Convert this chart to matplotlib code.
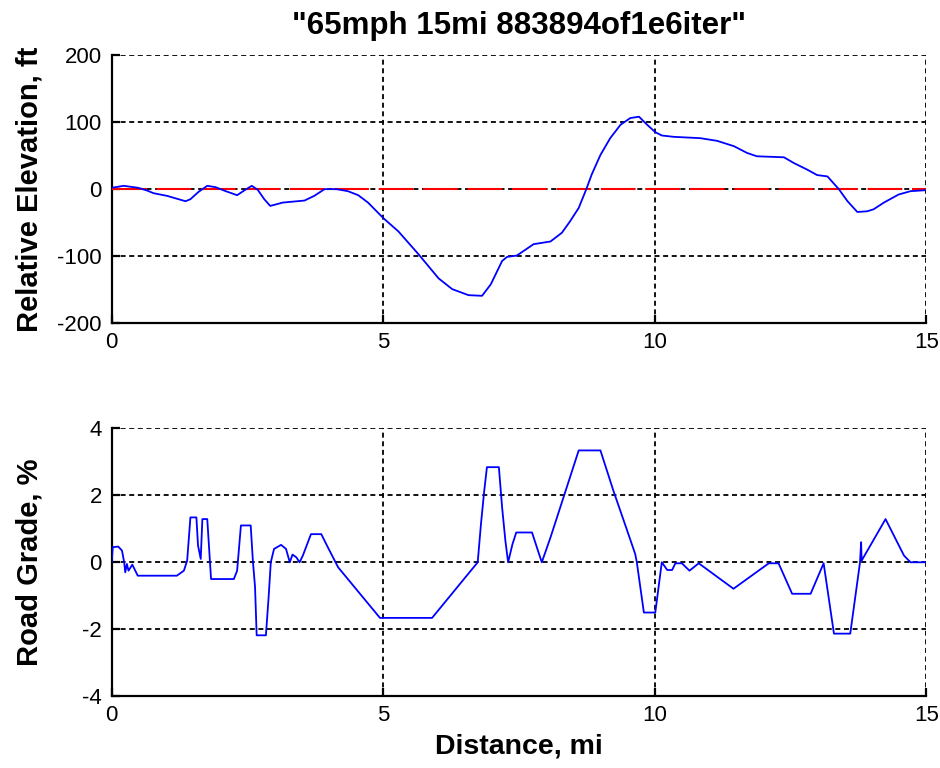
import numpy as np
import matplotlib
matplotlib.use('Agg')
import matplotlib.pyplot as plt

matplotlib.rcParams.update({'font.size': 16, 'font.family': ['Liberation Sans', 'DejaVu Sans'],
                            'lines.scale_dashes': False, 'axes.unicode_minus': False})

# elevation profile (ft) vs distance (mi)
elev_x = [0, 0.22, 0.49, 0.65, 0.77, 1.02, 1.36, 1.45, 1.6, 1.76,
          1.91, 2.1, 2.31, 2.44, 2.58, 2.69, 2.81, 2.92, 3.15, 3.55,
          3.73, 3.92, 4.14, 4.35, 4.54, 4.72, 5.0, 5.28, 5.65, 6.02,
          6.27, 6.57, 6.82, 6.98, 7.19, 7.28, 7.46, 7.77, 8.08, 8.29,
          8.44, 8.6, 8.74, 8.84, 9.0, 9.18, 9.37, 9.55, 9.71, 9.86,
          10.01, 10.13, 10.35, 10.84, 11.15, 11.46, 11.7, 11.88, 12.38, 12.56,
          12.81, 12.99, 13.18, 13.39, 13.55, 13.73, 13.91, 14.03, 14.22, 14.49,
          14.71, 15.0]
elev_y = [2, 5, 2, -2, -6, -10, -18, -15, -4, 5,
          3, -3, -9, -2, 5, -1, -15, -25, -20, -17,
          -10, 0, 0, -3, -9, -20, -43, -63, -97, -133,
          -149, -158, -159, -142, -107, -101, -99, -82, -78, -65,
          -48, -28, 0, 22, 51, 76, 96, 106, 108, 96,
          85, 80, 78, 76, 72, 64, 54, 49, 47.5, 39,
          29, 21, 19, 0, -18, -34, -33, -30, -20, -8,
          -3, -1.5]

zero_x = [0, 15]
zero_y = [0, 0]

# road grade (%)
grade_x = [0, 0.02, 0.12, 0.19, 0.23, 0.25, 0.28, 0.31, 0.38, 0.48,
           1.2, 1.33, 1.39, 1.45, 1.56, 1.59, 1.64, 1.67, 1.76, 1.83,
           2.25, 2.31, 2.38, 2.56, 2.6, 2.64, 2.67, 2.84, 2.89, 2.93,
           2.99, 3.12, 3.21, 3.28, 3.33, 3.4, 3.46, 3.52, 3.67, 3.86,
           3.98, 4.17, 4.94, 5.9, 6.74, 6.8, 6.86, 6.91, 7.13, 7.19,
           7.25, 7.3, 7.38, 7.45, 7.74, 7.92, 8.08, 8.6, 9.0, 9.24,
           9.43, 9.64, 9.67, 9.8, 10.01, 10.13, 10.23, 10.32, 10.38, 10.5,
           10.64, 10.81, 11.45, 12.1, 12.28, 12.53, 12.87, 13.11, 13.3, 13.6,
           13.78, 13.8, 13.81, 14.25, 14.59, 14.71, 15.0]
grade_y = [0, 0.45, 0.47, 0.35, 0, -0.3, -0.05, -0.25, -0.07, -0.4,
           -0.4, -0.25, 0.05, 1.34, 1.34, 0.5, 0.1, 1.29, 1.29, -0.5,
           -0.5, -0.25, 1.1, 1.1, 0.05, -0.74, -2.18, -2.18, -1.04, 0,
           0.4, 0.52, 0.4, 0, 0.23, 0.15, 0, 0.2, 0.84, 0.84,
           0.45, -0.15, -1.66, -1.66, 0, 1.14, 2.13, 2.84, 2.84, 1.63,
           0.64, 0, 0.54, 0.89, 0.89, 0, 0.74, 3.34, 3.34, 2.13,
           1.24, 0.25, 0, -1.5, -1.5, 0, -0.23, -0.23, -0.03, -0.03,
           -0.25, -0.03, -0.79, -0.03, -0.03, -0.94, -0.94, -0.03, -2.13, -2.13,
           0, 0.6, 0.05, 1.29, 0.2, 0, 0]

fig = plt.figure(figsize=(9.4, 7.68), dpi=100)
ax1 = fig.add_axes([0.1188, 0.579, 0.8666, 0.3494])
ax2 = fig.add_axes([0.1188, 0.0934, 0.8666, 0.3489])

grid_style = dict(color='k', linestyle=(0, (3.6, 2.6)), linewidth=1.3)

ax1.plot(zero_x, zero_y, color='#ff0000', linestyle=(0, (25, 7)), linewidth=1.5, zorder=3)
ax1.plot(elev_x, elev_y, color='#0000ff', linewidth=1.3, zorder=4)
ax1.set_xlim(0, 15)
ax1.set_ylim(-200, 200)
ax1.set_yticks([-200, -100, 0, 100, 200])
ax1.set_ylabel('Relative Elevation, ft', fontsize=21, fontweight='bold')
ax1.set_title('"65mph 15mi 883894of1e6iter"', fontsize=22.5, fontweight='bold', pad=15)

ax2.plot(grade_x, grade_y, color='#0000ff', linewidth=1.3, zorder=4)
ax2.set_xlim(0, 15)
ax2.set_ylim(-4, 4)
ax2.set_yticks([-4, -2, 0, 2, 4])
ax2.set_ylabel('Road Grade, %', fontsize=21, fontweight='bold')
ax2.set_xlabel('Distance, mi', fontsize=20.5, fontweight='bold')

for ax in (ax1, ax2):
    ax.set_xticks([0, 5, 10, 15])
    ax.grid(True, **grid_style)
    ax.set_axisbelow(True)
    ax.spines['top'].set_visible(False)
    ax.spines['right'].set_visible(False)
    ax.spines['left'].set_linewidth(1.6)
    ax.spines['bottom'].set_linewidth(1.6)
    ax.tick_params(direction='in', length=6, width=1.6, labelsize=16)
    ax.tick_params(axis='y', pad=7)
    ax.tick_params(axis='x', pad=6)
    ax.yaxis.set_label_coords(-0.084, 0.5)

ax2.xaxis.set_label_coords(0.5, -0.14)

fig.savefig('out.png', dpi=100)
